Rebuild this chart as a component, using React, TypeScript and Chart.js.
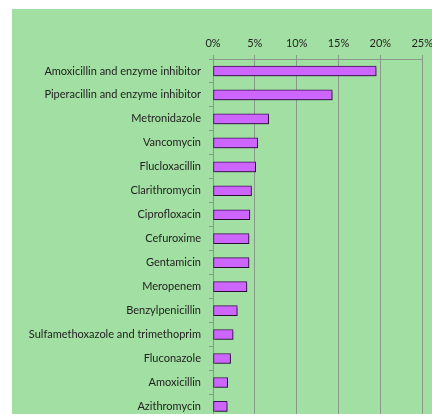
import React, { useEffect, useRef } from "react";
import { Chart, registerables } from "chart.js";

Chart.register(...registerables);

const categories = [
  "Amoxicillin and enzyme inhibitor",
  "Piperacillin and enzyme inhibitor",
  "Metronidazole",
  "Vancomycin",
  "Flucloxacillin",
  "Clarithromycin",
  "Ciprofloxacin",
  "Cefuroxime",
  "Gentamicin",
  "Meropenem",
  "Benzylpenicillin",
  "Sulfamethoxazole and trimethoprim",
  "Fluconazole",
  "Amoxicillin",
  "Azithromycin",
];

const shares = [19.5, 14.25, 6.65, 5.35, 5.1, 4.6, 4.4, 4.3, 4.3, 4.05, 2.9, 2.4, 2.1, 1.75, 1.7];

const xTicks = [0, 5, 10, 15, 20, 25];

const shadowPlugin = {
  id: "barShadow",
  beforeDatasetDraw(chart: any) {
    const ctx = chart.ctx;
    ctx.save();
    ctx.shadowColor = "rgba(0,0,0,0.35)";
    ctx.shadowOffsetX = 2;
    ctx.shadowOffsetY = 2;
    ctx.shadowBlur = 2;
  },
  afterDatasetDraw(chart: any) {
    chart.ctx.restore();
  },
};

export default function App() {
  const ref = useRef<HTMLCanvasElement | null>(null);

  useEffect(() => {
    if (!ref.current) return;
    const font = { family: "Lato, 'Open Sans', sans-serif", size: 11 };
    const chart = new Chart(ref.current, {
      type: "bar",
      data: {
        labels: categories,
        datasets: [
          {
            data: shares,
            backgroundColor: "#cc66ff",
            borderColor: "#3d1450",
            borderWidth: 1,
            borderSkipped: false,
            barThickness: 10,
          },
        ],
      },
      options: {
        indexAxis: "y",
        animation: false,
        responsive: false,
        maintainAspectRatio: false,
        layout: { padding: { left: 0, right: 0, top: 0, bottom: 7 } },
        plugins: { legend: { display: false }, tooltip: { enabled: false } },
        scales: {
          x: {
            position: "top",
            min: 0,
            max: 25,
            afterBuildTicks(scale: any) {
              scale.ticks = xTicks.map((v) => ({ value: v }));
            },
            afterFit(scale: any) {
              scale.height = 50;
            },
            ticks: {
              font,
              color: "#222",
              padding: 5,
              callback: (v: any) => v + "%",
            },
            grid: {
              color: "#8a9a8a",
              lineWidth: 1,
              tickLength: 4,
            },
            border: { color: "#8a9a8a" },
          },
          y: {
            afterFit(scale: any) {
              scale.width = 201;
            },
            ticks: { font, color: "#222", padding: 8 },
            grid: {
              drawOnChartArea: false,
              drawTicks: true,
              tickLength: 4,
              color: "#8a9a8a",
              offset: true,
            },
            border: { color: "#8a9a8a" },
          },
        },
      },
      plugins: [shadowPlugin],
    });
    return () => chart.destroy();
  }, []);

  return (
    <div
      style={{
        position: "fixed",
        left: 0,
        top: 0,
        width: 432,
        height: 414,
        overflow: "hidden",
        background: "#ffffff",
      }}
    >
      <div
        style={{
          position: "absolute",
          left: 12,
          top: 9,
          width: 430,
          height: 430,
          background: "#a2dfa2",
        }}
      >
        <canvas ref={ref} width={426} height={424} style={{ display: "block" }} />
      </div>
    </div>
  );
}
